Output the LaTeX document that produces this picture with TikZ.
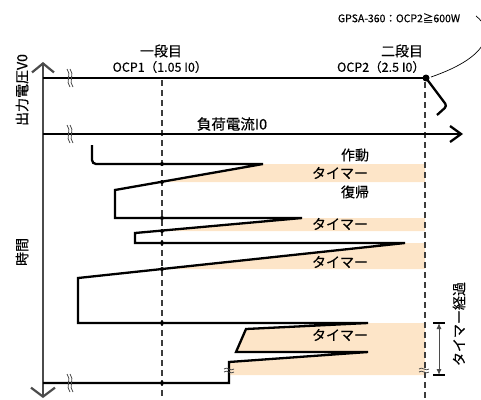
\documentclass[tikz,border=0pt]{standalone}
\usepackage{fontspec}
\setmainfont{Noto Sans CJK JP}[BoldFont={Noto Sans CJK JP}, BoldFeatures={FakeBold=0.35}]
\usetikzlibrary{arrows.meta}
\definecolor{shadecol}{RGB}{253,229,200}
\definecolor{axisgray}{RGB}{75,75,75}
\definecolor{dashgray}{RGB}{60,60,60}
\tikzset{
  thickline/.style={line width=2.3pt, black},
  axisline/.style={line width=2.2pt, axisgray},
  guide/.style={line width=1.6pt, dashgray, dash pattern=on 6pt off 4pt},
  band/.style={fill=shadecol, draw=none},
  lbl/.style={inner sep=0pt, font=\fontsize{14pt}{14pt}\selectfont\bfseries},
  small/.style={inner sep=0pt, font=\fontsize{12.5pt}{12.5pt}\selectfont\bfseries},
  tiny/.style={inner sep=0pt, font=\fontsize{10.5pt}{10.5pt}\selectfont\bfseries},
  pdot/.style={circle, fill=black, inner sep=0pt, minimum size=4pt},
  pics/vbrk/.style={code={
    \draw[line width=0.8pt, axisgray] (-3,-9) .. controls (2,-4) and (-5,4) .. (0,9);
    \draw[line width=0.8pt, axisgray] (0,-9) .. controls (5,-4) and (-2,4) .. (3,9);
  }},
  pics/hbrk/.style={code={
    \draw[line width=0.8pt, axisgray] (-5,-1) .. controls (-2,-4) and (2,2) .. (5,-1);
    \draw[line width=0.8pt, axisgray] (-5,2) .. controls (-2,-1) and (2,5) .. (5,2);
  }}
}
\begin{document}
\begin{tikzpicture}[x=1pt,y=-1pt]
\useasboundingbox (0,0) rectangle (481,399);

% shaded bands
\fill[shadecol] (263,164) -- (425,164) -- (425,182) -- (162,182) -- cycle;
\fill[shadecol] (302,218) -- (425,218) -- (425,231) -- (162,231) -- cycle;
\fill[shadecol] (405,243) -- (425,243) -- (425,269) -- (162,269) -- cycle;
\fill[shadecol] (368,323) -- (425,323) -- (425,375) -- (229,375) -- (229,362) -- (368,352) -- (236,352) -- (246,329) -- cycle;

% key coordinates
\coordinate (axtop) at (43,62);
\coordinate (axbot) at (43,398);
\coordinate (haxL) at (43,134);
\coordinate (haxR) at (463,134);
\coordinate (vL) at (43,78);
\coordinate (ocp2) at (426,78);
\coordinate (g1t) at (162,80);
\coordinate (g1b) at (162,399);
\coordinate (g2t) at (425,82);
\coordinate (g2b) at (425,399);

% dashed guides
\draw[guide] (g1t) -- (g1b);
\draw[guide] (g2t) -- (g2b);

% axes
\draw[axisline, {Straight Barb[length=9pt,width=22pt]}-{Straight Barb[length=9pt,width=24pt]}] (axtop) -- (axbot);
\draw[thickline, -{Straight Barb[length=11pt,width=16pt]}] (haxL) -- (haxR);
\draw[thickline] (vL) -- (ocp2);

% droop after OCP2
\draw[thickline, rounded corners=3pt] (ocp2) -- (447,106) -- (437,115);
\node[pdot, minimum size=7pt] (d2) at (ocp2) {};

% leader to note
\begin{scope}
\clip (0,0) rectangle (481,399);
\draw[line width=0.7pt] (476,16) .. controls (494,30) and (492,56) .. (431,77);
\end{scope}

% time trace
\coordinate (s0) at (92,145);
\draw[thickline]
  (s0) [rounded corners=4pt] -- (92,164) [sharp corners] -- (263,164) -- (115,190) -- (115,218)
  -- (302,218) -- (135,233) -- (135,243) -- (405,243) -- (78,278) -- (78,323)
  -- (368,323) -- (246,329) -- (236,352) -- (368,352) -- (229,362) -- (229,383) -- (43,383);

% dots on first guide
\foreach \yy in {164,182,218,231,243,269,323,383}
  \node[pdot] at (162,\yy) {};

% break marks
\pic at (70,78) {vbrk};
\pic at (70,134) {vbrk};
\pic at (70,383) {vbrk};
\pic at (229,370) {hbrk};
\pic at (424,370) {hbrk};

% timer elapsed arrow
\coordinate (ta) at (439,323);
\coordinate (tb) at (439,375);
\draw[line width=0.9pt, axisgray, -{Latex[length=6pt,width=5pt]}] (439,340) -- (ta);
\draw[line width=0.9pt, axisgray, -{Latex[length=6pt,width=5pt]}] (439,340) -- (tb);
\draw[line width=1.1pt, black] (433,323) -- (445,323);
\draw[line width=1.1pt, black] (433,375) -- (445,375);

% labels
\node[tiny] (note) at (399,18) {GPSA-360：OCP2≧600W};
\node[lbl] (st1) at (161,51) {一段目};
\node[small] (o1) at (160,67) {OCP1（1.05 I0）};
\node[lbl] (st2) at (402,51) {二段目};
\node[small] (o2) at (381,67) {OCP2（2.5 I0）};
\node[lbl, font=\fontsize{14.5pt}{14.5pt}\selectfont\bfseries] (ilbl) at (232,124) {負荷電流I0};
\node[lbl, rotate=90] (vlbl) at (22,90) {出力電圧V0};
\node[lbl, rotate=90] (tlbl) at (22,252) {時間};
\node[lbl, rotate=90] (telbl) at (459,324) {タイマー経過};
\node[lbl] (act) at (355,155) {作動};
\node[lbl] (tm1) at (340,173) {タイマー};
\node[lbl] (ret) at (355,192) {復帰};
\node[lbl] (tm2) at (340,224) {タイマー};
\node[lbl] (tm3) at (340,262) {タイマー};
\node[lbl] (tm4) at (340,335) {タイマー};
\end{tikzpicture}
\end{document}
